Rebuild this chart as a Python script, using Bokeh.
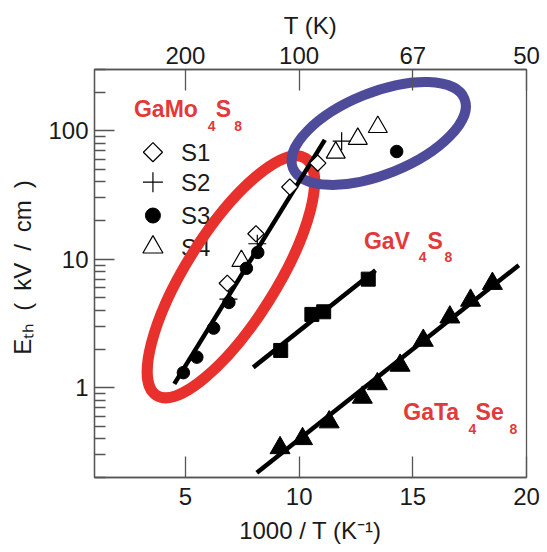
from bokeh.plotting import figure
from bokeh.models import FixedTicker, LinearAxis, BasicTickFormatter
from bokeh.core.properties import value
from bokeh.embed import file_html
from bokeh.resources import INLINE

# ---------------- data ----------------
# GaMo4S8 samples
s1_x = [6.84, 8.10, 9.59, 10.82]
s1_y = [6.5, 15.8, 36.5, 56.0]
s2_x = [6.89, 8.16, 11.87]
s2_y = [4.9, 13.2, 83.0]
s3_x = [4.91, 5.50, 6.24, 6.91, 7.68, 8.18, 14.29]
s3_y = [1.31, 1.73, 2.91, 4.61, 8.5, 11.3, 69.0]
s4_x = [7.46, 11.61, 12.58, 13.46]
s4_y = [9.7, 67.6, 86.6, 107.0]
gamo_fit_x = [4.51, 11.13]
gamo_fit_y = [1.07, 85.0]

# GaV4S8
gav_x = [9.19, 10.56, 11.08, 13.04]
gav_y = [1.95, 3.72, 3.90, 7.0]
gav_fit_x = [7.98, 13.36]
gav_fit_y = [1.44, 8.2]

# GaTa4Se8
gata_x = [9.16, 10.15, 11.32, 12.78, 13.44, 14.44, 15.46, 16.63, 17.54, 18.50]
gata_y = [0.34, 0.40, 0.54, 0.84, 1.07, 1.49, 2.33, 3.54, 4.78, 6.46]
gata_fit_x = [8.14, 19.66]
gata_fit_y = [0.218, 8.98]

# ticks
x_ticks = [5, 10, 15, 20]
t_labels = ["200", "100", "67", "50"]
y_ticks = [1, 10, 100]
legend_labels = ["S1", "S2", "S3", "S4"]

# ---------------- style ----------------
FONT = "Liberation Sans"
AX = "#555555"
TXT = "#1a1a1a"
RED = "#e2393a"
RING_RED = "#e8312d"
RING_BLUE = "#4f4b9b"
SP = "\u2002"  # wider space, as in the original axis title

p = figure(width=547, height=552, x_range=(1, 20), y_range=(0.2, 300),
           y_axis_type="log", output_backend="svg", toolbar_location=None,
           min_border_left=94, min_border_right=21, min_border_top=69,
           min_border_bottom=75)
p.grid.visible = False
p.outline_line_color = AX
p.outline_line_width = 1.3
p.background_fill_color = "white"
p.border_fill_color = "white"


def style_axis(ax, tick_in):
    ax.axis_line_color = AX
    ax.axis_line_width = 1.3
    ax.major_tick_line_color = AX
    ax.major_tick_line_width = 1.3
    ax.minor_tick_line_color = AX
    ax.minor_tick_line_width = 1.3
    ax.major_tick_in = tick_in
    ax.major_tick_out = 0
    ax.minor_tick_in = 11
    ax.minor_tick_out = 0
    ax.major_label_text_font = FONT
    ax.major_label_text_font_size = "24px"
    ax.major_label_text_color = TXT
    ax.axis_label_text_font = FONT
    ax.axis_label_text_font_size = "24px"
    ax.axis_label_text_font_style = "normal"
    ax.axis_label_text_color = TXT


# bottom axis
xa = p.xaxis[0]
xa.ticker = FixedTicker(ticks=x_ticks)
xa.axis_label = "1000 / T (K\u207b\u00b9)"
style_axis(xa, 21)
xa.major_label_standoff = 10
xa.axis_label_standoff = 9

# top axis
top = LinearAxis(ticker=FixedTicker(ticks=x_ticks),
                 major_label_overrides=dict(zip(x_ticks, t_labels)),
                 axis_label="T (K)")
style_axis(top, 21)
top.major_label_standoff = 6
top.axis_label_standoff = 5
p.add_layout(top, "above")

# left axis
minor = [m * 10.0 ** e for e in (-1, 0, 1, 2) for m in range(2, 10)]
minor = [v for v in minor if 0.2 <= v <= 300]
ya = p.yaxis[0]
ya.ticker = FixedTicker(ticks=y_ticks, minor_ticks=minor)
ya.formatter = BasicTickFormatter()
ya.axis_label = SP + "E\u209c\u2095" + SP + "(" + SP + "kV" + SP + "/" + SP + "cm" + SP + ")"
style_axis(ya, 20)
ya.major_label_standoff = 6
ya.axis_label_standoff = 9

# ---------------- legend (manual, inside plot) ----------------
leg_x = [3.57] * 4
leg_y = [68.1, 39.8, 21.9, 12.41]
p.scatter([leg_x[0]], [leg_y[0]], marker="square", angle=0.785398, size=13.5,
          fill_color=None, line_color="black", line_width=1.2)
p.scatter([leg_x[1]], [leg_y[1]], marker="cross", size=20,
          line_color="black", line_width=1.2)
p.scatter([leg_x[2]], [leg_y[2]], marker="circle", size=15,
          fill_color="black", line_color="black")
p.scatter([leg_x[3]], [leg_y[3]], marker="triangle", size=20,
          fill_color=None, line_color="black", line_width=1.2)
p.text(x=[4.80] * 4, y=leg_y, text=legend_labels, text_font=value(FONT),
       text_font_size="24px", text_baseline="middle", text_align="left",
       text_color=TXT)

# ---------------- highlight rings ----------------
p.ellipse(x=[7.0], y=[7.3], width=280, height=90,
          width_units="screen", height_units="screen", angle=1.01,
          fill_color=None, line_color=RING_RED, line_width=11)
p.ellipse(x=[13.5], y=[95.3], width=185, height=82,
          width_units="screen", height_units="screen", angle=0.384,
          fill_color=None, line_color=RING_BLUE, line_width=10)

# ---------------- fit lines ----------------
for fx, fy in ((gamo_fit_x, gamo_fit_y), (gav_fit_x, gav_fit_y),
               (gata_fit_x, gata_fit_y)):
    p.line(fx, fy, line_color="black", line_width=4.5, line_cap="butt")

# ---------------- data markers ----------------
p.scatter(s1_x, s1_y, marker="square", angle=0.785398, size=11.5,
          fill_color="white", line_color="black", line_width=1.2)
p.scatter(s2_x, s2_y, marker="cross", size=18,
          line_color="black", line_width=1.2)
p.scatter(s3_x, s3_y, marker="circle", size=12.5,
          fill_color="black", line_color="black")
p.scatter(s4_x, s4_y, marker="triangle", size=19,
          fill_color=None, line_color="black", line_width=1.2)
p.scatter(gav_x, gav_y, marker="square", size=14,
          fill_color="black", line_color="black")
p.scatter(gata_x, gata_y, marker="triangle", size=20,
          fill_color="black", line_color="black")

# ---------------- compound labels with subscripts ----------------
def chem_label(parts):
    big = [pt for pt in parts if not pt[3]]
    small = [pt for pt in parts if pt[3]]
    p.text(x=[b[0] for b in big], y=[b[1] for b in big], text=[b[2] for b in big],
           text_font=value(FONT), text_font_size="23px", text_font_style="bold",
           text_color=RED, text_baseline="alphabetic", text_align="left")
    p.text(x=[s[0] for s in small], y=[s[1] for s in small], text=[s[2] for s in small],
           text_font=value(FONT), text_font_size="14px", text_font_style="bold",
           text_color=RED, text_baseline="alphabetic", text_align="left")


chem_label([(2.735, 146.5, "GaMo", False), (5.986, 109.3, "4", True),
            (6.338, 146.5, "S", False), (7.142, 109.3, "8", True)])
chem_label([(12.85, 13.75, "GaV", False), (15.256, 10.32, "4", True),
            (15.651, 13.75, "S", False), (16.398, 10.32, "8", True)])
chem_label([(14.583, 0.644, "GaTa", False), (17.452, 0.4752, "4", True),
            (17.76, 0.644, "Se", False), (19.254, 0.4752, "8", True)])

open("out.html", "w").write(file_html(p, INLINE))
